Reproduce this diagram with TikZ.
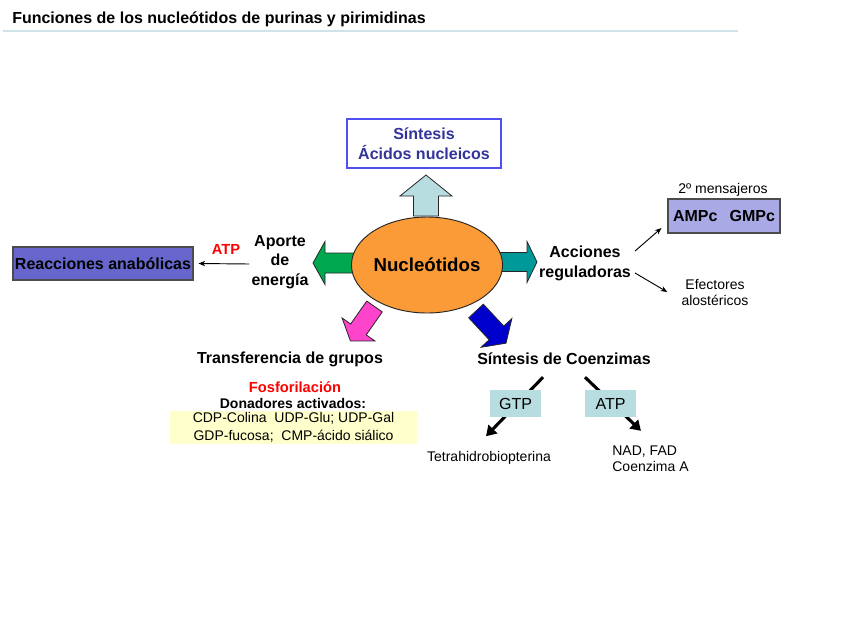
\documentclass[tikz,border=0pt]{standalone}
\usepackage{fontspec}
\setmainfont{Liberation Sans}
\usetikzlibrary{arrows.meta,shapes.geometric}
\definecolor{titleline}{HTML}{CFE3E8}
\definecolor{boxblue}{HTML}{5050F0}
\definecolor{textblue}{HTML}{333399}
\definecolor{lightteal}{HTML}{B7DDE0}
\definecolor{nucorange}{HTML}{FA9B38}
\definecolor{arrgreen}{HTML}{00A850}
\definecolor{arrteal}{HTML}{009999}
\definecolor{arrpink}{HTML}{FF44CC}
\definecolor{arrblue}{HTML}{0000CC}
\definecolor{reacfill}{HTML}{6666CC}
\definecolor{ampfill}{HTML}{A9A9E6}
\definecolor{yellowfill}{HTML}{FFFFCC}
\definecolor{atpred}{HTML}{FF0000}
\newcommand\blkarrow[8]{% x, y, angle, colour, L, w, W, h (px)
  \begin{scope}[shift={(#1,#2)},rotate=#3]
    \filldraw[fill=#4,draw=black!85,line width=0.6pt,line join=miter]
      (0,{-#6/2}) -- ({#5-#8},{-#6/2}) -- ({#5-#8},{-#7/2}) -- (#5,0)
      -- ({#5-#8},{#7/2}) -- ({#5-#8},{#6/2}) -- (0,{#6/2}) -- cycle;
  \end{scope}}
\tikzset{
  boldlbl/.style={font=\bfseries\fontsize{12}{14.6}\selectfont,align=center,inner sep=0pt},
  smalllbl/.style={font=\fontsize{10.5}{12}\selectfont,align=center,inner sep=0pt},
  thinarr/.style={-{Stealth[length=5pt,width=4pt]},line width=0.7pt,black},
  thickarr/.style={-{Triangle[length=7.5pt,width=9pt]},line width=2.3pt,black},
  tealbox/.style={fill=lightteal,draw=none,minimum width=38.25pt,minimum height=20.25pt,inner sep=0pt,font=\fontsize{12}{14}\selectfont}
}
\begin{document}
\begin{tikzpicture}[x=0.75pt,y=-0.75pt]
\useasboundingbox (0,0) rectangle (848,636);
\fill[white] (0,0) rectangle (848,636);
% title
\node[anchor=west,inner sep=0pt,font=\bfseries\fontsize{12}{14}\selectfont] (title) at (12,19) {Funciones de los nucleótidos de purinas y pirimidinas};
\draw[titleline,line width=1.2pt] (3,31) -- (738,31);
% block arrows
\blkarrow{426}{216}{90}{lightteal}{41}{25}{52}{21}
\blkarrow{354}{263}{180}{arrgreen}{41}{20}{43}{12}
\blkarrow{494}{262}{0}{arrteal}{43}{19}{41}{10}
\blkarrow{374.5}{306.5}{235}{arrpink}{42}{19}{40}{14}
\blkarrow{476}{311}{-47}{arrblue}{44}{20}{42}{14}
% main nodes
\node[ellipse,draw=black!85,line width=0.7pt,fill=nucorange,minimum width=102pt,minimum height=72pt,inner sep=0pt,font=\bfseries\fontsize{14}{16}\selectfont] (nuc) at (427,265) {Nucleótidos};
\node[draw=boxblue,line width=1pt,fill=white,text=textblue,minimum width=115.5pt,minimum height=36.75pt,inner sep=0pt,font=\bfseries\fontsize{12}{15}\selectfont,align=center] (acidos) at (424,143.5) {Síntesis\\Ácidos nucleicos};
\node[boldlbl] (aporte) at (280,262) {Aporte\\de\\energía};
\node[inner sep=0pt,text=atpred,font=\bfseries\fontsize{11}{13}\selectfont] (atp) at (226,249) {ATP};
\node[draw=black!70,line width=0.8pt,fill=reacfill,minimum width=135pt,minimum height=24.75pt,inner sep=0pt,font=\bfseries\fontsize{12}{14}\selectfont] (reac) at (103,263.5) {Reacciones anabólicas};
\node[boldlbl,font=\bfseries\fontsize{12}{15}\selectfont] (acc) at (585,263) {Acciones\\reguladoras};
\node[smalllbl] (mens) at (723,190) {2º mensajeros};
\node[draw=black!70,line width=0.8pt,fill=ampfill,minimum width=84pt,minimum height=25.5pt,inner sep=0pt,font=\bfseries\fontsize{12}{14}\selectfont] (amp) at (724,216) {AMPc\hspace{9pt}GMPc};
\node[smalllbl] (efe) at (715,292) {Efectores\\alostéricos};
\node[boldlbl] (trans) at (290,359) {Transferencia de grupos};
\node[boldlbl] (coenz) at (564,359) {Síntesis de Coenzimas};
\node[inner sep=0pt,text=atpred,font=\bfseries\fontsize{11}{13}\selectfont] (fosf) at (295,387) {Fosforilación};
\node[inner sep=0pt,font=\bfseries\fontsize{10.5}{12}\selectfont] (don) at (293,403) {Donadores activados:};
\node[fill=yellowfill,minimum width=185.25pt,minimum height=24.75pt,inner sep=0pt,align=center,font=\fontsize{10.5}{13.5}\selectfont] (donbox) at (293.5,427) {CDP-Colina\ \ UDP-Glu; UDP-Gal\\GDP-fucosa;\ \ CMP-ácido siálico};
\node[smalllbl] (tetra) at (489,458) {Tetrahidrobiopterina};
\node[smalllbl,align=left,font=\fontsize{10.5}{12}\selectfont] (nad) at (650.5,459) {NAD, FAD\\Coenzima A};
% connectors
\draw[thinarr] ([shift={(-2,2)}]aporte.west) -- ([shift={(5,0)}]reac.east);
\draw[thinarr] ([shift={(4,-12)}]acc.east) -- ([shift={(-6,12)}]amp.west);
\draw[thinarr] ([shift={(4,10)}]acc.east) -- ([shift={(-14,0)}]efe.west);
\draw[thickarr] ([shift={(-21,12)}]coenz.south) -- ([shift={(-3,-15)}]tetra.north);
\draw[thickarr] ([shift={(21,12)}]coenz.south) -- ([shift={(-9.5,-15)}]nad.north);
\node[tealbox] (gtp) at (515.5,403.5) {GTP};
\node[tealbox] (atp2) at (610.5,403.5) {ATP};
\end{tikzpicture}
\end{document}
